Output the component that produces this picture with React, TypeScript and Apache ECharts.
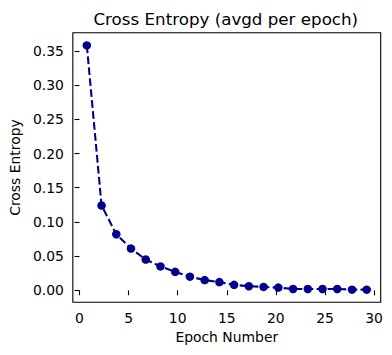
import React, { useEffect, useRef } from "react";
import * as echarts from "echarts";

const epochs = [0.75, 2.25, 3.75, 5.25, 6.75, 8.25, 9.75, 11.25, 12.75, 14.25, 15.75, 17.25, 18.75, 20.25, 21.75, 23.25, 24.75, 26.25, 27.75, 29.25];
const crossEntropy = [0.358, 0.124, 0.082, 0.061, 0.045, 0.035, 0.027, 0.020, 0.015, 0.012, 0.008, 0.006, 0.005, 0.004, 0.002, 0.002, 0.002, 0.002, 0.001, 0.001];
const xTicks = [0, 5, 10, 15, 20, 25, 30];
const yTicks = [0, 0.05, 0.1, 0.15, 0.2, 0.25, 0.3, 0.35];

const FONT = "DejaVu Sans";

export default function App() {
  const ref = useRef<HTMLDivElement>(null);
  useEffect(() => {
    document.body.style.margin = "0";
    const chart = echarts.init(ref.current!, undefined, { renderer: "svg" });
    const grid = { left: 71, right: 11.3, top: 32.7, bottom: 52.7 };
    chart.setOption({
      animation: false,
      textStyle: { fontFamily: FONT },
      grid: { ...grid, show: true, borderColor: "#000", borderWidth: 1.1, backgroundColor: "#fff" },
      graphic: [
        {
          type: "text",
          x: 225.8,
          y: 19,
          style: {
            text: "Cross Entropy (avgd per epoch)",
            fontFamily: FONT,
            fontSize: 16.7,
            fill: "#000",
            align: "center",
            verticalAlign: "middle",
          },
        },
      ],
      xAxis: {
        type: "value",
        min: -0.675,
        max: 30.675,
        name: "Epoch Number",
        nameLocation: "middle",
        nameGap: 26,
        nameTextStyle: { fontSize: 13.9, color: "#000", fontFamily: FONT },
        axisLine: { show: false },
        splitLine: { show: false },
        axisTick: { show: true, length: 4.9, inside: false, customValues: xTicks, lineStyle: { color: "#000", width: 1.1 } },
        axisLabel: { customValues: xTicks, fontSize: 13.9, color: "#000", margin: 9, fontFamily: FONT },
      },
      yAxis: {
        type: "value",
        min: -0.0175,
        max: 0.3766,
        name: "Cross Entropy",
        nameLocation: "middle",
        nameGap: 47,
        nameRotate: 90,
        nameTextStyle: { fontSize: 13.9, color: "#000", fontFamily: FONT },
        axisLine: { show: false },
        splitLine: { show: false },
        axisTick: { show: true, length: 4.9, inside: false, customValues: yTicks, lineStyle: { color: "#000", width: 1.1 } },
        axisLabel: {
          customValues: yTicks,
          fontSize: 13.9,
          color: "#000",
          margin: 9,
          fontFamily: FONT,
          formatter: (v: number) => v.toFixed(2),
        },
      },
      series: [
        {
          type: "line",
          data: epochs.map((x, i) => [x, crossEntropy[i]]),
          symbol: "circle",
          symbolSize: 8.5,
          itemStyle: { color: "#00008b" },
          lineStyle: { color: "#00008b", width: 2.1, type: [7.7, 3.3] },
        },
      ],
    });
    return () => chart.dispose();
  }, []);
  return <div ref={ref} style={{ width: 392, height: 355 }} />;
}
